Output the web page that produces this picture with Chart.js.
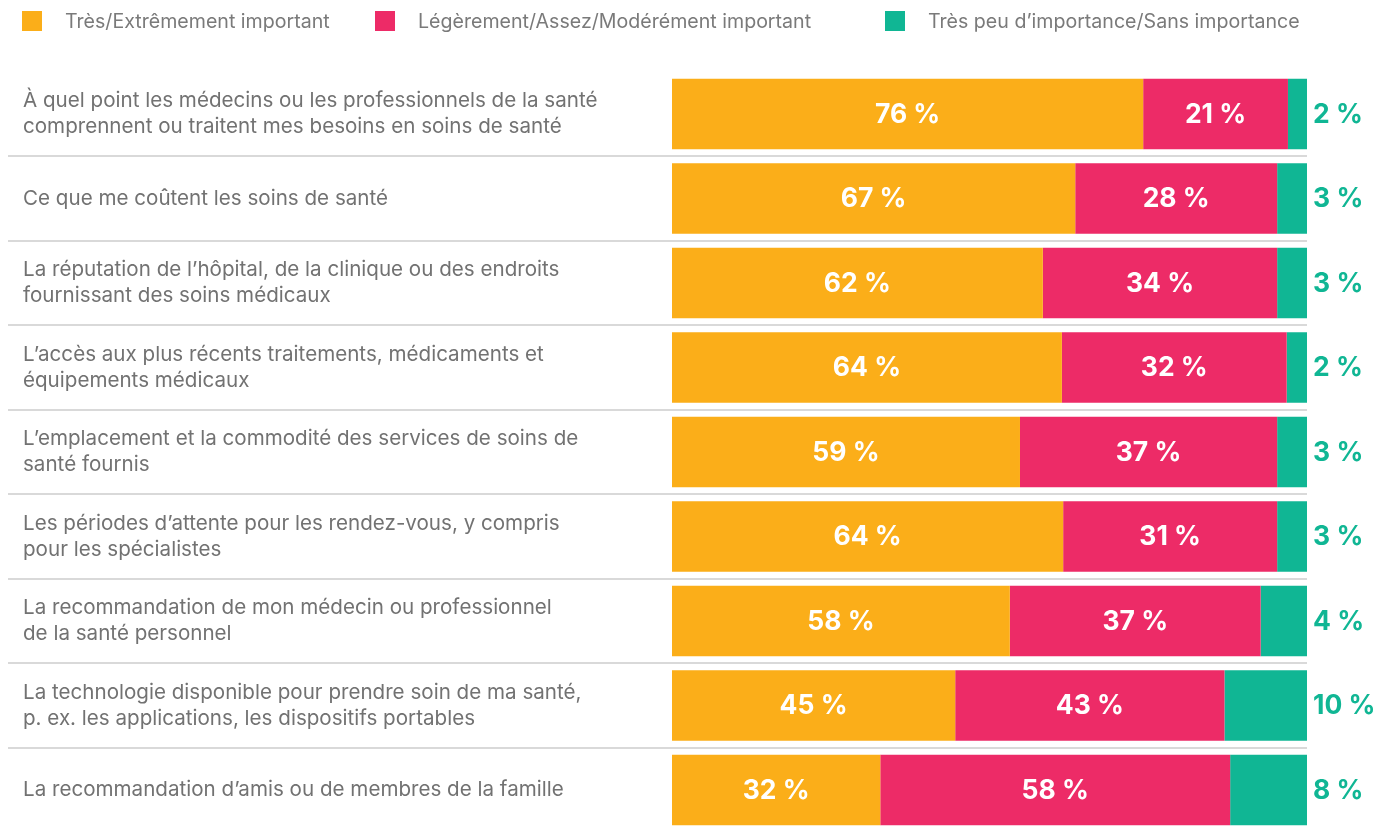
<!DOCTYPE html>
<html lang="fr">
<head>
<meta charset="utf-8">
<script src="https://cdn.jsdelivr.net/npm/chart.js@4.4.1/dist/chart.umd.min.js"></script>
<style>
  html, body { margin: 0; padding: 0; background: #fff; overflow: hidden; }
  #wrap { position: relative; width: 1390px; height: 828px; overflow: hidden; }
  #myChart { position: absolute; top: 0; left: 0; }
  #legend { position: absolute; top: 0; left: 0; width: 1390px; height: 40px;
            font-family: Inter, sans-serif; font-size: 19.6px; color: #7a7a7a; }
  .item { position: absolute; top: 11px; height: 20px; }
  .box { position: absolute; left: 0; top: 0; width: 20px; height: 20px; }
  .txt { position: absolute; left: 43px; top: -1px; line-height: 22px; white-space: nowrap; }
</style>
</head>
<body>
<div id="wrap">
  <canvas id="myChart" width="1390" height="834"></canvas>
  <div id="legend"></div>
</div>
<script>
// Categories (one array per row label, split on the line breaks)
const categories = [
    ['À quel point les médecins ou les professionnels de la santé', 'comprennent ou traitent mes besoins en soins de santé'],
    'Ce que me coûtent les soins de santé',
    ['La réputation de l’hôpital, de la clinique ou des endroits', 'fournissant des soins médicaux'],
    ['L’accès aux plus récents traitements, médicaments et', 'équipements médicaux'],
    ['L’emplacement et la commodité des services de soins de', 'santé fournis'],
    ['Les périodes d’attente pour les rendez-vous, y compris', 'pour les spécialistes'],
    ['La recommandation de mon médecin ou professionnel', 'de la santé personnel'],
    ['La technologie disponible pour prendre soin de ma santé,', 'p. ex. les applications, les dispositifs portables'],
    'La recommandation d’amis ou de membres de la famille'
];

const seriesNames = [
    'Très/Extrêmement important',
    'Légèrement/Assez/Modérément important',
    'Très peu d’importance/Sans importance'
];

// Percentages printed on the bars
const tresImportant = [76, 67, 62, 64, 59, 64, 58, 45, 32];
const moderement = [21, 28, 34, 32, 37, 31, 37, 43, 58];
const peuImportant = [2, 3, 3, 2, 3, 3, 4, 10, 8];

// Segment lengths as drawn in the picture (share of the full bar)
const tresBar = [74.2, 63.5, 58.4, 61.4, 54.8, 61.6, 53.2, 44.6, 32.8];
const moderBar = [22.8, 31.8, 36.9, 35.4, 40.5, 33.7, 39.5, 42.4, 55.1];
const peuBar = [3.0, 4.7, 4.7, 3.2, 4.7, 4.7, 7.3, 13.0, 12.1];

const colors = ['#fbae19', '#ed2b67', '#10b694'];

// Legend (HTML, uneven spacing like the original)
const legendX = [22, 375, 885];
const legendEl = document.getElementById('legend');
seriesNames.forEach(function(name, i) {
    const item = document.createElement('div');
    item.className = 'item';
    item.style.left = legendX[i] + 'px';
    item.innerHTML = '<div class="box" style="background:' + colors[i] + '"></div><div class="txt"></div>';
    item.querySelector('.txt').textContent = name;
    legendEl.appendChild(item);
});

// Draws the percentages: white inside the first two segments, teal after the bar
const valueLabels = {
    id: 'valueLabels',
    afterDatasetsDraw(chart) {
        const c = chart.ctx;
        c.save();
        c.font = 'bold 26.5px Inter, sans-serif';
        c.textBaseline = 'middle';
        chart.data.datasets.forEach(function(ds, i) {
            chart.getDatasetMeta(i).data.forEach(function(bar, j) {
                const txt = ds.shown[j] + ' %';
                if (i < 2) {
                    c.fillStyle = '#ffffff';
                    c.textAlign = 'center';
                    c.fillText(txt, (bar.x + bar.base) / 2, bar.y + 1);
                } else {
                    c.fillStyle = colors[2];
                    c.textAlign = 'left';
                    c.fillText(txt, chart.chartArea.right + 6, bar.y + 1);
                }
            });
        });
        c.restore();
    }
};

const ctx = document.getElementById('myChart').getContext('2d');

const myChart = new Chart(ctx, {
    type: 'bar',
    data: {
        labels: categories,
        datasets: [
            { label: seriesNames[0], data: tresBar, shown: tresImportant, backgroundColor: colors[0] },
            { label: seriesNames[1], data: moderBar, shown: moderement, backgroundColor: colors[1] },
            { label: seriesNames[2], data: peuBar, shown: peuImportant, backgroundColor: colors[2] }
        ]
    },
    options: {
        indexAxis: 'y',
        responsive: false,
        animation: false,
        layout: { padding: { left: 23, right: 83, top: 71.75, bottom: 1.75 } },
        datasets: {
            bar: { barPercentage: 0.835, categoryPercentage: 1, borderWidth: 0 }
        },
        plugins: {
            legend: { display: false },
            tooltip: { enabled: false }
        },
        scales: {
            x: { stacked: true, display: false, min: 0, max: 100 },
            y: {
                stacked: true,
                border: { display: false },
                grid: {
                    offset: true,
                    tickLength: 664,
                    lineWidth: 2,
                    color: function(context) {
                        // no line above the first row or below the last
                        if (context.type !== 'tick' || context.index === 0) return 'rgba(0,0,0,0)';
                        return '#d9d9d9';
                    }
                },
                ticks: {
                    crossAlign: 'far',
                    color: '#727272',
                    font: { family: 'Inter, sans-serif', size: 20.6, lineHeight: 1.262 }
                },
                afterFit: function(scale) {
                    scale.width = 649;
                    scale.paddingTop = 0;
                    scale.paddingBottom = 0;
                }
            }
        }
    },
    plugins: [valueLabels]
});
</script>
</body>
</html>
